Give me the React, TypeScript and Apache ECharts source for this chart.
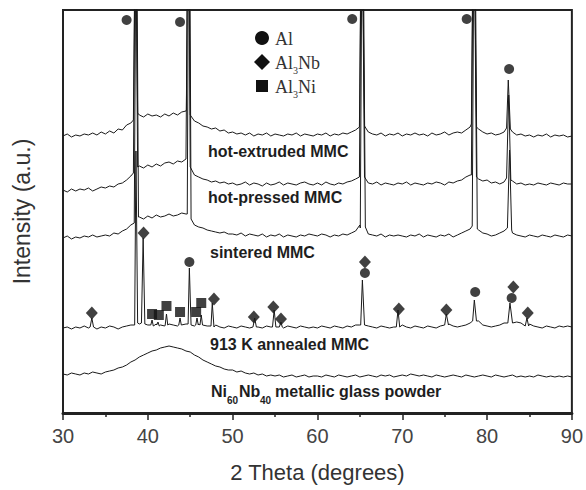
import React, { useEffect, useRef } from "react";
import * as echarts from "echarts";

// Baselines sampled every 0.5 degrees from 30 to 90 (intensity, a.u.)
const extrudedBase = [
  277,279,276,278,277,279,278,280,278,281,
  279,282,280,284,283,288,290,294,298,296,
  299,297,298,296,299,297,300,298,301,302,
  296,292,290,287,286,284,285,282,283,280,
  281,279,280,278,280,277,279,278,280,277,
  279,278,277,279,278,280,277,279,278,277,
  279,278,280,277,279,278,280,279,281,283,
  290,286,281,279,278,280,277,279,278,280,
  277,279,278,280,278,279,277,280,278,279,
  281,278,280,281,280,283,286,290,284,281,
  279,280,278,279,281,300,281,278,279,277,
  278,276,278,277,279,276,278,277,278,276,
  277,
];
const extrudedPeaks = [
  [[38.3,293],[38.5,480],[38.6,480],[38.8,300]],
  [[44.55,303],[44.7,480],[44.85,480],[45.0,298]],
  [[64.95,286],[65.15,480],[65.3,480],[65.55,287]],
  [[78.15,289],[78.35,480],[78.5,480],[78.75,286]],
  [[82.3,285],[82.5,333],[82.75,284]],
];

const pressedBase = [
  223,221,224,222,224,223,225,222,224,226,
  225,227,226,229,230,233,237,240,247,245,
  248,246,249,247,250,251,249,252,251,254,
  243,238,236,234,233,231,232,230,231,229,
  230,228,229,231,228,230,229,227,230,228,
  229,231,228,230,229,228,230,231,229,228,
  230,228,231,229,228,230,229,231,232,234,
  240,235,230,229,231,228,230,229,228,230,
  229,231,228,230,229,228,230,229,231,230,
  228,231,230,232,233,236,238,240,234,232,
  233,230,231,229,231,240,232,229,230,228,
  229,228,230,229,228,230,229,228,230,229,
  229,
];
const pressedPeaks = [
  [[38.3,240],[38.5,480],[38.6,480],[38.8,246]],
  [[44.55,254],[44.7,480],[44.85,480],[45.0,246]],
  [[64.95,236],[65.15,480],[65.3,480],[65.55,236]],
  [[78.15,238],[78.35,480],[78.5,480],[78.75,236]],
  [[82.3,235],[82.55,318],[82.8,233]],
];

const sinteredBase = [
  175,177,174,176,175,177,176,178,176,177,
  178,177,180,179,182,184,188,190,196,194,
  197,195,198,196,197,199,197,198,200,199,
  192,188,186,185,183,182,181,180,181,179,
  179,178,180,177,179,178,177,179,176,178,
  177,179,176,178,177,176,178,177,179,178,
  177,179,178,176,178,177,179,178,180,182,
  188,184,179,178,177,179,176,178,177,178,
  177,176,178,177,179,176,178,177,176,178,
  177,179,176,178,180,182,184,188,183,180,
  179,177,178,180,182,190,180,178,177,176,
  178,177,176,178,177,176,178,177,176,178,
  177,
];
const sinteredPeaks = [
  [[38.4,190],[38.6,480],[38.7,480],[38.9,196]],
  [[44.65,199],[44.8,480],[44.95,480],[45.1,194]],
  [[65.05,185],[65.25,480],[65.4,480],[65.65,186]],
  [[78.25,187],[78.45,480],[78.6,480],[78.85,184]],
  [[82.4,185],[82.65,263],[82.9,183]],
];

const annealedBase = [
  85,86,84,86,85,87,85,86,84,86,
  85,87,86,84,86,87,88,90,89,88,
  88,87,89,88,87,89,88,87,88,89,
  88,87,89,88,87,86,88,86,85,87,
  86,85,87,86,85,87,86,85,87,86,
  87,86,85,87,86,85,87,86,85,86,
  85,87,86,85,87,86,85,87,86,88,
  88,89,87,86,85,87,86,85,86,87,
  88,86,85,87,86,85,87,86,85,87,
  88,89,87,86,87,88,90,94,92,88,
  87,86,87,88,90,92,94,91,90,88,
  89,87,86,85,87,86,85,87,86,87,
  86,
];
const annealedPeaks = [
  [[33.2,86],[33.4,95],[33.6,86]],
  [[38.45,88],[38.6,262],[38.8,90]],
  [[39.25,90],[39.45,175],[39.65,89]],
  [[40.35,88],[40.5,93],[40.65,87]],
  [[41.05,88],[41.2,91],[41.35,87]],
  [[42.05,88],[42.2,99],[42.35,88]],
  [[43.65,88],[43.8,95],[43.95,88]],
  [[44.75,89],[44.9,145],[45.1,88]],
  [[45.65,88],[45.8,95],[45.95,88]],
  [[46.15,88],[46.3,98],[46.45,88]],
  [[47.45,87],[47.6,110],[47.8,86]],
  [[52.4,86],[52.6,95],[52.8,86]],
  [[54.7,86],[54.9,103],[55.1,86]],
  [[55.55,86],[55.7,91],[55.85,86]],
  [[65.1,88],[65.3,133],[65.55,88]],
  [[69.3,86],[69.5,103],[69.7,86]],
  [[75.0,88],[75.2,99],[75.45,88]],
  [[78.3,92],[78.5,113],[78.75,92]],
  [[82.45,90],[82.7,110],[83.0,90]],
  [[84.5,87],[84.7,95],[84.9,87]],
];

const glassBase = [
  39,38,40,39,38,40,39,41,40,39,
  41,42,43,45,46,48,51,53,56,58,
  60,62,63,65,66,67,66,65,64,62,
  61,58,56,53,51,49,47,46,44,43,
  43,41,42,40,39,40,38,39,37,38,
  37,38,36,37,38,36,37,38,36,37,
  37,36,38,37,36,38,37,36,37,38,
  36,37,38,37,36,38,37,38,36,37,
  38,37,39,38,37,38,37,36,38,37,
  36,37,38,37,36,38,37,36,37,38,
  37,36,38,37,36,37,38,36,37,36,
  37,36,38,37,36,37,36,37,36,37,
  36,
];

// Phase markers [2θ, intensity]
const alMarks = [[37.5,393],[43.8,391],[64.1,394],[77.6,394],[82.6,344],[44.9,151],[65.6,140],[78.6,121],[82.9,115]];
const al3NbMarks = [[39.5,180],[33.4,100],[47.8,114],[52.5,96],[54.8,106],[55.7,94],[65.6,151],[69.6,104],[75.2,103],[83.1,126],[84.8,100]];
const al3NiMarks = [[40.5,99],[41.3,98],[42.2,107],[43.8,101],[45.7,101],[46.3,110]];

const xTicks = [30, 40, 50, 60, 70, 80, 90];

function build(base: number[], peaks: number[][][]) {
  const pts: number[][] = [];
  base.forEach((v, i) => {
    const x = 30 + i * 0.5;
    if (!peaks.some((g) => x >= g[0][0] && x <= g[g.length - 1][0])) pts.push([x, v]);
  });
  peaks.forEach((g) => g.forEach((p) => pts.push(p)));
  pts.sort((a, b) => a[0] - b[0]);
  return pts;
}

export default function App() {
  const ref = useRef<HTMLDivElement>(null);
  useEffect(() => {
    document.body.style.margin = "0";
    const chart = echarts.init(ref.current!, undefined, { renderer: "svg" });
    const line = (name: string, data: number[][]) => ({
      name,
      type: "line",
      data,
      showSymbol: false,
      symbol: "none",
      clip: true,
      lineStyle: { color: "#1a1a1a", width: 1 },
      silent: true,
    });
    const sans = "Liberation Sans, Arial, sans-serif";
    const serif = "Liberation Serif, Times New Roman, serif";
    const lbl = (text: string, x: number, y: number, size = 16) => ({
      type: "text",
      x,
      y,
      style: { text, fill: "#1e1e1e", font: `bold ${size}px ${sans}`, textVerticalAlign: "middle" },
    });
    const leg = (text: string, x: number, y: number, size = 18) => ({
      type: "text",
      x,
      y,
      style: { text, fill: "#333", font: `${size}px ${serif}`, textVerticalAlign: "middle" },
    });
    chart.setOption({
      animation: false,
      backgroundColor: "#fff",
      grid: { left: 63, right: 12, top: 10, bottom: 77, show: true, borderColor: "#222", borderWidth: 2 },
      xAxis: {
        type: "value",
        min: 30,
        max: 90,
        interval: 10,
        name: "2 Theta (degrees)",
        nameLocation: "middle",
        nameGap: 48,
        nameTextStyle: { fontSize: 22, color: "#333", fontFamily: sans },
        axisLine: { lineStyle: { color: "#222", width: 3 } },
        axisTick: { length: 7, lineStyle: { color: "#222", width: 1.5 } },
        minorTick: { show: true, splitNumber: 2, length: 4, lineStyle: { color: "#222", width: 1.5 } },
        axisLabel: { fontSize: 20, color: "#444", fontFamily: sans, margin: 13, formatter: (v: number) => (xTicks.includes(v) ? String(v) : "") },
        splitLine: { show: false },
      },
      yAxis: {
        type: "value",
        min: 0,
        max: 403,
        name: "Intensity (a.u.)",
        nameLocation: "middle",
        nameGap: 30,
        nameTextStyle: { fontSize: 23, color: "#333", fontFamily: sans },
        axisLine: { show: true, lineStyle: { color: "#222", width: 2 } },
        axisTick: { show: false },
        axisLabel: { show: false },
        splitLine: { show: false },
      },
      series: [
        line("hot-extruded MMC", build(extrudedBase, extrudedPeaks)),
        line("hot-pressed MMC", build(pressedBase, pressedPeaks)),
        line("sintered MMC", build(sinteredBase, sinteredPeaks)),
        line("913 K annealed MMC", build(annealedBase, annealedPeaks)),
        line("Ni60Nb40 metallic glass powder", build(glassBase, [])),
        { name: "Al", type: "scatter", data: alMarks, symbol: "circle", symbolSize: 10, itemStyle: { color: "#111" }, silent: true },
        { name: "Al3Nb", type: "scatter", data: al3NbMarks, symbol: "diamond", symbolSize: [12, 13], itemStyle: { color: "#111" }, silent: true },
        { name: "Al3Ni", type: "scatter", data: al3NiMarks, symbol: "rect", symbolSize: 10, itemStyle: { color: "#111" }, silent: true },
      ],
      graphic: [
        { type: "circle", shape: { cx: 262, cy: 38, r: 7 }, style: { fill: "#111" } },
        { type: "polygon", shape: { points: [[262, 54], [270, 62], [262, 70], [254, 62]] }, style: { fill: "#111" } },
        { type: "rect", shape: { x: 256, y: 80, width: 12, height: 12 }, style: { fill: "#111" } },
        leg("Al", 275, 39),
        leg("Al", 275, 63),
        leg("3", 293, 70, 10),
        leg("Nb", 298, 63),
        leg("Al", 275, 87),
        leg("3", 293, 94, 10),
        leg("Ni", 298, 87),
        lbl("hot-extruded MMC", 208, 151),
        lbl("hot-pressed MMC", 208, 197),
        lbl("sintered MMC", 210, 252),
        lbl("913 K annealed MMC", 210, 344),
        lbl("Ni", 211, 391),
        lbl("60", 227, 400, 10),
        lbl("Nb", 239, 391),
        lbl("40", 260, 400, 10),
        lbl("metallic glass powder", 275, 391),
      ],
    });
    return () => chart.dispose();
  }, []);
  return <div ref={ref} style={{ width: 586, height: 490 }} />;
}
